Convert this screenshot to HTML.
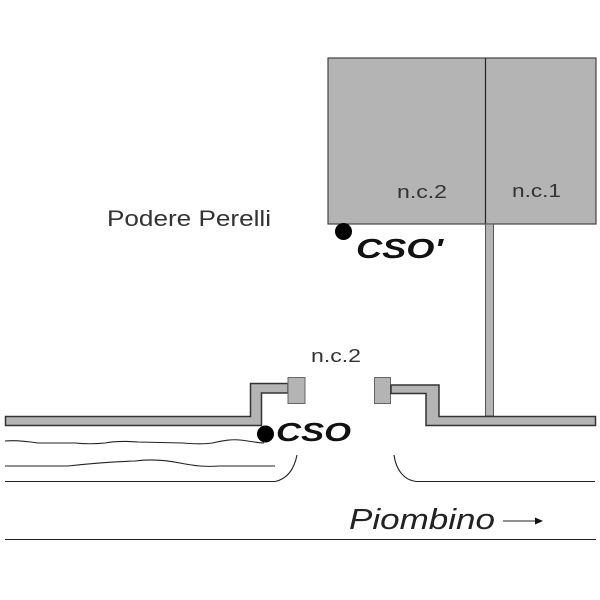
<!DOCTYPE html>
<html><head><meta charset="utf-8"><style>html,body{margin:0;padding:0;background:#fff}svg{display:block}text{font-family:"Liberation Sans",sans-serif}</style></head>
<body><svg width="600" height="600" viewBox="0 0 600 600" xmlns="http://www.w3.org/2000/svg">
<rect width="600" height="600" fill="#fff"/>
<rect x="328" y="58" width="268" height="166" fill="#b4b4b4" stroke="#444" stroke-width="1.2"/>
<line x1="485.5" y1="58" x2="485.5" y2="224" stroke="#222" stroke-width="1.2"/>
<path d="M485.5 224H493.500V416H485.500Z" fill="#b4b4b4" stroke="#555" stroke-width="1"/>
<path d="M5.500 416.500H250.500V383.500H288V393H261.500V425.500H5.500Z" fill="#b4b4b4" stroke="#333" stroke-width="1.500"/>
<rect x="288" y="377.500" width="17" height="26" fill="#b4b4b4" stroke="#666" stroke-width="1"/>
<rect x="374.500" y="377.500" width="16" height="26" fill="#b4b4b4" stroke="#666" stroke-width="1"/>
<path d="M391 385H439V416.500H595.500V425.500H426V393.500H391Z" fill="#b4b4b4" stroke="#333" stroke-width="1.500"/>
<g fill="none" stroke="#222" stroke-width="1.100">
<path d="M5 441C15 440 25 441 38 443L75 443C85 444 95 444 105 443C115 441 125 441 138 442L183 443C195 444 205 444 212 443C222 441 230 439 240 440C250 441 258 443 264 443"/>
<path d="M5 466L68 466C85 464 105 462 135 461C150 459 165 460 180 463C195 466 205 467 220 466L275 466"/>
<path d="M5 481.500H275C287 479 294 470 297 455"/>
<path d="M595 481.500H416C404 480 396 470 394 455"/>
<line x1="5" y1="539.500" x2="596" y2="539.500"/>
<line x1="503" y1="521" x2="536" y2="521"/>
</g>
<path d="M535 517.500L543 521L535 524.500Z" fill="#111"/>
<circle cx="343.500" cy="231.500" r="8.500" fill="#000"/>
<circle cx="265.500" cy="434" r="8.500" fill="#000"/>
<text x="107" y="226" font-size="22" fill="#333" textLength="164" lengthAdjust="spacingAndGlyphs">Podere Perelli</text>
<text x="397" y="198" font-size="18" fill="#333" textLength="50" lengthAdjust="spacingAndGlyphs">n.c.2</text>
<text x="512" y="197" font-size="18" fill="#333" textLength="49" lengthAdjust="spacingAndGlyphs">n.c.1</text>
<text x="311" y="362" font-size="18" fill="#333" textLength="50" lengthAdjust="spacingAndGlyphs">n.c.2</text>
<text x="356" y="258" font-size="28" font-weight="bold" font-style="italic" fill="#111" textLength="87" lengthAdjust="spacingAndGlyphs">CSO'</text>
<text x="276" y="441" font-size="26" font-weight="bold" font-style="italic" fill="#111" textLength="75" lengthAdjust="spacingAndGlyphs">CSO</text>
<text x="349" y="529" font-size="29" font-style="italic" fill="#222" textLength="146" lengthAdjust="spacingAndGlyphs">Piombino</text>
</svg></body></html>
